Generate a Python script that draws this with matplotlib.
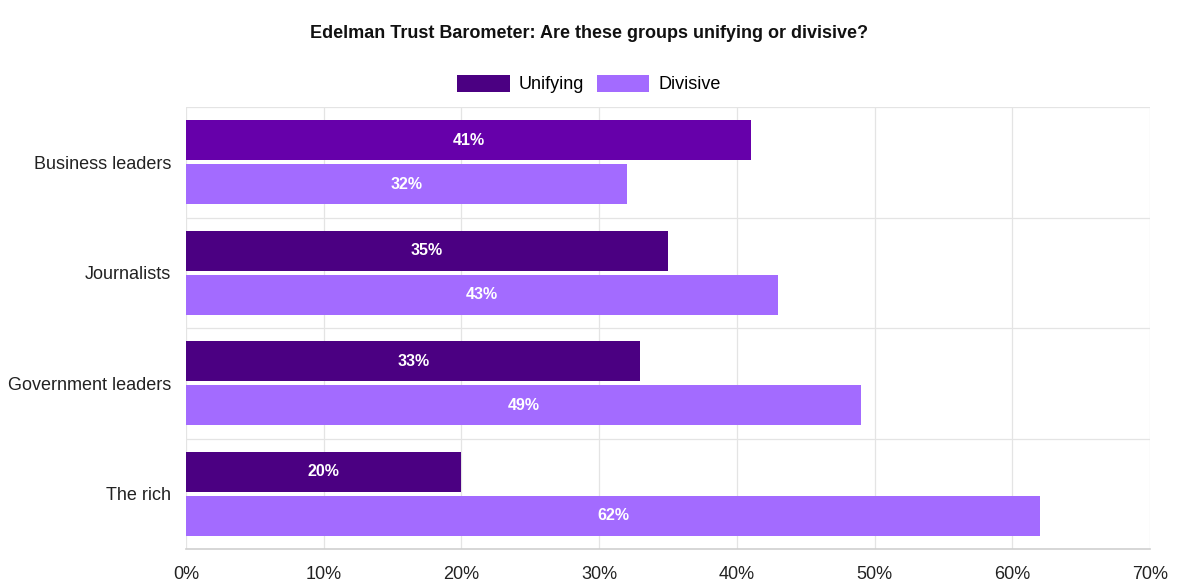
import matplotlib
matplotlib.use('Agg')
import matplotlib.pyplot as plt
import numpy as np
from matplotlib.patches import Patch

plt.rcParams['font.family'] = ['Liberation Sans', 'DejaVu Sans']

# datos
categories = ['Business leaders', 'Journalists', 'Government leaders', 'The rich']
unifying = [41, 35, 33, 20]
divisive = [32, 43, 49, 62]
x_ticks = [0, 10, 20, 30, 40, 50, 60, 70]

c_unif = '#4b0082'
c_unif_hover = '#6600aa'
c_div = '#a36bff'

fig = plt.figure(figsize=(11.78, 5.84), dpi=100)
ax = fig.add_axes([186 / 1178, 1 - 549 / 584, (1150 - 186) / 1178, (549 - 107) / 584])

y = np.arange(len(categories))
h = 0.36
unif_colors = [c_unif_hover] + [c_unif] * (len(categories) - 1)
b1 = ax.barh(y - 0.2, unifying, height=h, color=unif_colors, zorder=3)
b2 = ax.barh(y + 0.2, divisive, height=h, color=c_div, zorder=3)

for bars, vals in ((b1, unifying), (b2, divisive)):
    for bar, v in zip(bars, vals):
        ax.text(v / 2, bar.get_y() + bar.get_height() / 2, f'{v}%',
                ha='center', va='center', color='white', fontsize=11.5,
                fontweight='bold', zorder=4)

ax.set_xlim(0, 70)
ax.set_ylim(len(categories) - 0.5, -0.5)
ax.set_xticks(x_ticks)
ax.set_xticklabels([f'{t}%' for t in x_ticks])
ax.set_yticks(y)
ax.set_yticklabels(categories)
ax.tick_params(axis='both', length=0, labelsize=13, colors='#222222')
ax.tick_params(axis='y', pad=10.5)
ax.tick_params(axis='x', pad=12)

# cuadrícula
for t in x_ticks:
    ax.axvline(t, color='#e4e4e4', lw=0.9, zorder=1)
for b in np.arange(-0.5, len(categories) - 0.5, 1.0):
    ax.axhline(b, color='#e4e4e4', lw=0.9, zorder=1)
for s in ('top', 'right', 'left'):
    ax.spines[s].set_visible(False)
ax.spines['bottom'].set_color('#cfcfcf')
ax.spines['bottom'].set_linewidth(1.2)

fig.text(0.5, 1 - 33 / 584, 'Edelman Trust Barometer: Are these groups unifying or divisive?',
         ha='center', va='center', fontsize=13, fontweight='bold', color='#111111')

handles = [Patch(facecolor=c_unif), Patch(facecolor=c_div)]
fig.legend(handles, ['Unifying', 'Divisive'], loc='center', ncol=2,
           bbox_to_anchor=(0.5, 1 - 84 / 584), frameon=False, fontsize=13,
           handlelength=2.9, handleheight=1.1, handletextpad=0.5, columnspacing=0.7)

fig.savefig('out.png', dpi=100, facecolor='white')
